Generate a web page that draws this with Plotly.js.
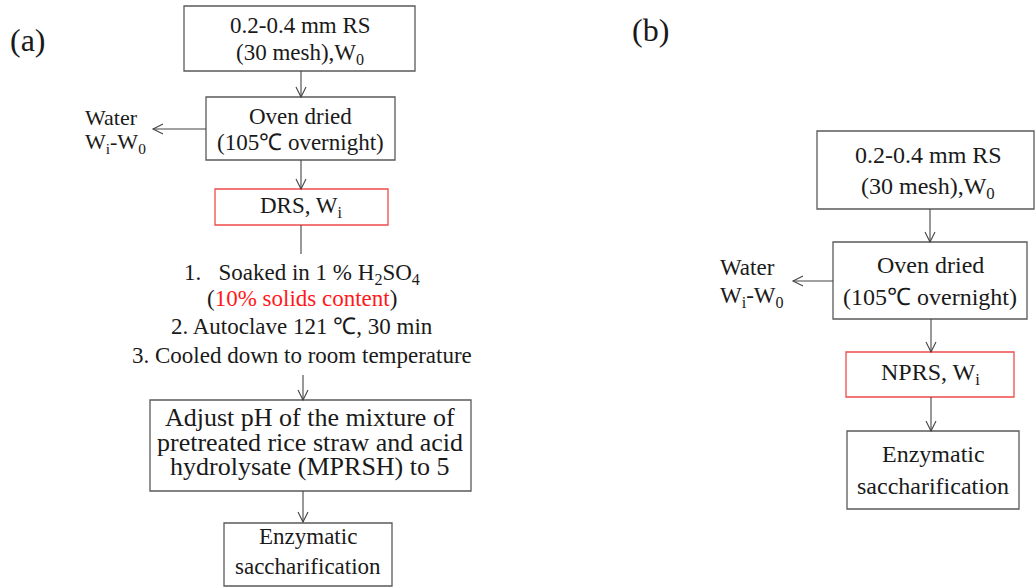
<!DOCTYPE html>
<html>
<head>
<meta charset="utf-8">
<script src="https://cdn.plot.ly/plotly-3.0.1.min.js"></script>
<style>
  html, body { margin: 0; padding: 0; background: #ffffff; }
  #chart { width: 1035px; height: 587px; }
</style>
</head>
<body>
<div id="chart"></div>
<script>
// ---- Flowchart text, one entry per printed line ----
const panelTags      = ["(a)", "(b)"];
const rawStrawLines  = ["0.2-0.4 mm RS", "(30 mesh),W<sub>0</sub>"];
const ovenLines      = ["Oven dried", "(105\u2103 overnight)"];
const waterLines     = ["Water", "W<sub>i</sub>-W<sub>0</sub>"];
const drsLines       = ["DRS, W<sub>i</sub>"];
const nprsLines      = ["NPRS, W<sub>i</sub>"];
const pretreatLines  = [
  "1.\u00a0\u00a0 Soaked in 1 % H<sub>2</sub>SO<sub>4</sub>",
  "(<span style=\"color:#ff1a1a\">10% solids content</span>)",
  "2. Autoclave 121 \u2103, 30 min",
  "3. Cooled down to room temperature"
];
const adjustLines    = [
  "Adjust pH of the mixture of",
  "pretreated rice straw and acid",
  "hydrolysate (MPRSH) to 5"
];
const enzymeLines    = ["Enzymatic", "saccharification"];

// ---- Drawing setup (page pixel space: x to the right, y downward) ----
const FONT = "Liberation Serif";
const INK = "#1a1a1a";
const EDGE = "#5a5a5a";
const RED_EDGE = "#f04b4b";
const ARROW = "#444444";

// Node layout: box [x0, x1, y0, y1], line centres, text size, edge colour
const nodes = [
  // panel (a)
  { lines: rawStrawLines, box: [184, 415, 6, 71],    cx: 300, ys: [25, 54],   size: 23 },
  { lines: ovenLines,     box: [206, 395, 97, 160],  cx: 300, ys: [116, 142], size: 23 },
  { lines: drsLines,      box: [215, 388, 189, 225], cx: 301, ys: [207],      size: 23, edge: RED_EDGE },
  { lines: pretreatLines, box: null,                 cx: 302, ys: [274, 298, 326, 355], size: 23 },
  { lines: adjustLines,   box: [150, 471, 400, 491], cx: 310, ys: [417, 442, 466], size: 26 },
  { lines: enzymeLines,   box: [224, 392, 523, 586], cx: 308, ys: [536, 566], size: 23 },
  { lines: waterLines,    box: null, left: 83,       ys: [117, 143], size: 22 },
  // panel (b)
  { lines: rawStrawLines, box: [817, 1034, 131, 209], cx: 928, ys: [155, 188], size: 24 },
  { lines: ovenLines,     box: [833, 1027, 242, 319], cx: 930, ys: [265, 297], size: 24 },
  { lines: waterLines,    box: null, left: 718,       ys: [267, 297], size: 23 },
  { lines: nprsLines,     box: [846, 1014, 352, 397], cx: 930, ys: [374],      size: 24, edge: RED_EDGE },
  { lines: enzymeLines,   box: [847, 1019, 431, 509], cx: 933, ys: [454, 486], size: 24 }
];

// Connectors: [x0, y0, x1, y1, withHead]
const links = [
  [301, 71, 301, 97, true],
  [301, 160, 301, 189, true],
  [206, 129, 153, 129, true],
  [301, 225, 301, 254, false],
  [303, 375, 303, 400, true],
  [303, 491, 303, 522, true],
  [930, 209, 930, 242, true],
  [833, 281, 793, 281, true],
  [931, 319, 931, 352, true],
  [931, 397, 931, 431, true]
];

const tagPos = [[8, 40], [630, 30]];

const shapes = [];
const annotations = [];

nodes.forEach(n => {
  if (n.box) {
    shapes.push({
      type: "rect", xref: "x", yref: "y",
      x0: n.box[0], x1: n.box[1], y0: n.box[2], y1: n.box[3],
      line: { color: n.edge || EDGE, width: 1.3 },
      fillcolor: "rgba(0,0,0,0)"
    });
  }
  n.lines.forEach((txt, i) => {
    annotations.push({
      xref: "x", yref: "y",
      x: n.left !== undefined ? n.left : n.cx,
      y: n.ys[i],
      xanchor: n.left !== undefined ? "left" : "center",
      yanchor: "middle",
      text: txt,
      showarrow: false,
      font: { family: FONT, size: n.size, color: INK }
    });
  });
});

links.forEach(([x0, y0, x1, y1, head]) => {
  shapes.push({
    type: "line", xref: "x", yref: "y", x0, y0, x1, y1,
    line: { color: ARROW, width: 1.1 }
  });
  if (head) {
    // open V head pointing along the connector
    const dx = x1 - x0, dy = y1 - y0;
    const len = Math.hypot(dx, dy);
    const ux = dx / len, uy = dy / len;
    const px = -uy, py = ux;
    const back = 10, half = 5;
    const ax = x1 - ux * back, ay = y1 - uy * back;
    shapes.push({
      type: "path", xref: "x", yref: "y",
      path: `M ${ax + px * half},${ay + py * half} L ${x1},${y1} L ${ax - px * half},${ay - py * half}`,
      line: { color: ARROW, width: 1.1 }
    });
  }
});

panelTags.forEach((t, i) => {
  annotations.push({
    xref: "x", yref: "y", x: tagPos[i][0], y: tagPos[i][1],
    xanchor: "left", yanchor: "middle", showarrow: false,
    text: t, font: { family: FONT, size: 32, color: INK }
  });
});

const layout = {
  width: 1035, height: 587,
  margin: { l: 0, r: 0, t: 0, b: 0, pad: 0 },
  paper_bgcolor: "#ffffff", plot_bgcolor: "#ffffff",
  showlegend: false,
  xaxis: { range: [0, 1035], visible: false, fixedrange: true },
  yaxis: { range: [587, 0], visible: false, fixedrange: true },
  shapes, annotations
};

Plotly.newPlot("chart", [], layout, { staticPlot: true, displayModeBar: false });
</script>
</body>
</html>
